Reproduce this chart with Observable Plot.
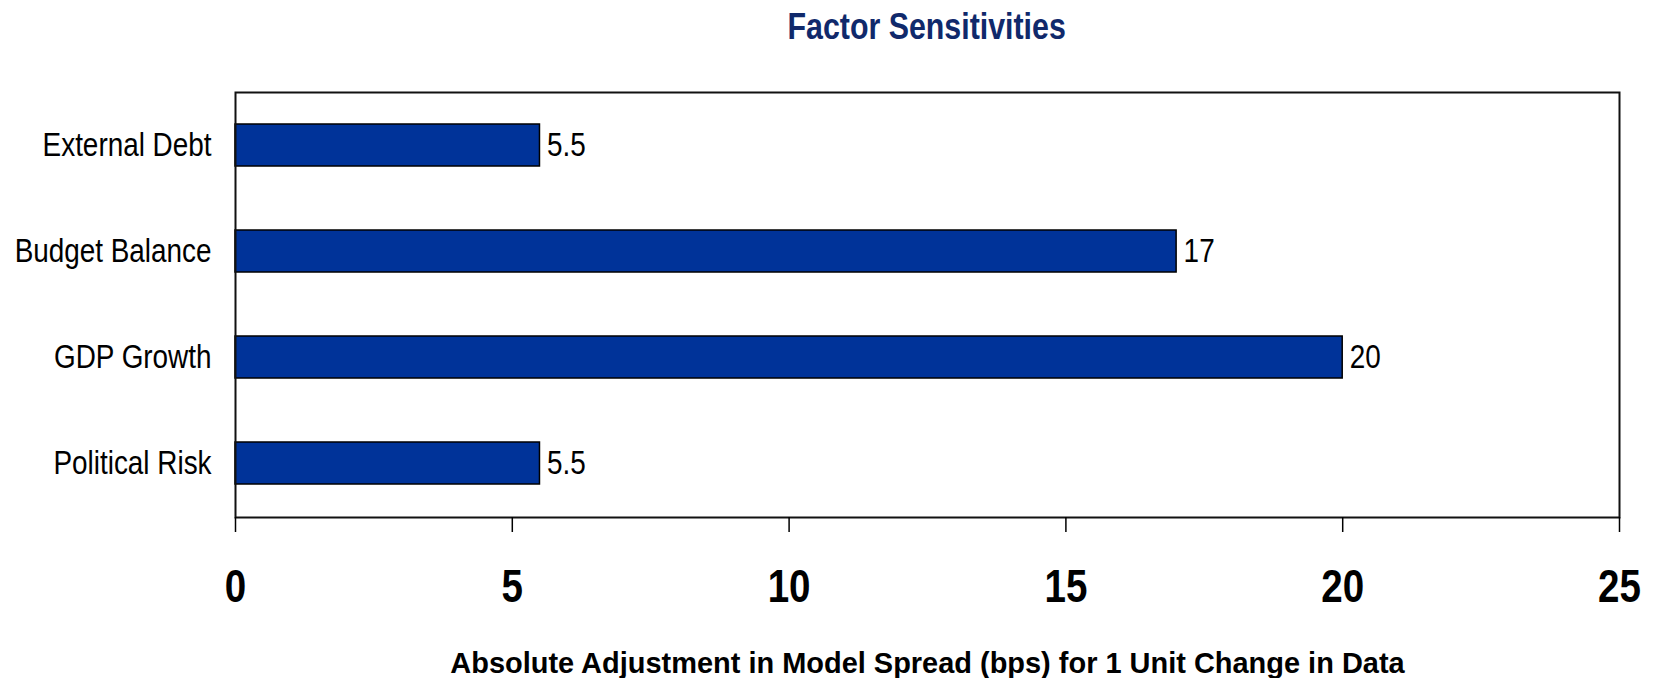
<!DOCTYPE html>
<html>
<head>
<meta charset="utf-8">
<script src="https://cdn.jsdelivr.net/npm/d3@7"></script>
<script src="https://cdn.jsdelivr.net/npm/@observablehq/plot@0.6"></script>
<style>
  html, body { margin: 0; padding: 0; background: #fff; }
  body { width: 1658px; height: 678px; overflow: hidden; font-family: "Liberation Sans", Arial, sans-serif; }
  #title { height: 60px; margin-left: 235px; width: 1384px; text-align: center; font-weight: bold; font-size: 37px; line-height: 54px; color: #10296b; }
  #chart svg { display: block; }
  #caption { margin-left: 235px; width: 1384px; text-align: center; font-weight: bold; font-size: 30px; line-height: 30px; margin-top: 28px; color: #000; }
  .narrow { display: inline-block; transform: scaleX(0.82); transform-origin: center; white-space: nowrap; }
  .cap { display: inline-block; transform: scaleX(0.965); transform-origin: center; white-space: nowrap; }
</style>
</head>
<body>
<div id="title"><span class="narrow">Factor Sensitivities</span></div>
<div id="chart"></div>
<div id="caption"><span class="cap">Absolute Adjustment in Model Spread (bps) for 1 Unit Change in Data</span></div>
<script>
const factors = ["External Debt", "Budget Balance", "GDP Growth", "Political Risk"];
const sensitivities = [5.5, 17, 20, 5.5];
const xTicks = [0, 5, 10, 15, 20, 25];

const data = factors.map((f, i) => ({factor: f, value: sensitivities[i]}));

const chart = Plot.plot({
  width: 1658,
  height: 560,
  marginTop: 32,
  marginBottom: 103,
  marginLeft: 235,
  marginRight: 39,
  style: { fontFamily: '"Liberation Sans", Arial, sans-serif', background: "white", overflow: "visible" },
  x: { domain: [0, 25] },
  y: { domain: factors, paddingInner: 0.6, paddingOuter: 0.3 },
  marks: [
    Plot.barX(data, { x: "value", y: "factor", fill: "#003399", stroke: "#000", strokeWidth: 1.5 }),
    Plot.text(data, { x: "value", y: "factor", text: d => String(d.value), textAnchor: "start", dx: 7, fontSize: 34, fill: "#000" }),
    Plot.frame({ stroke: "#111", strokeWidth: 2 }),
    Plot.axisX({ ticks: xTicks, tickSize: 15, tickPadding: 36, tickFormat: d => String(d), fontSize: 47, fontWeight: "bold", strokeWidth: 1.5, label: null, color: "#000" }),
    Plot.axisY({ tickSize: 0, tickPadding: 24, fontSize: 34, label: null, color: "#000" })
  ]
});
document.getElementById("chart").appendChild(chart);

// emulate a narrow (condensed) typeface by compressing glyphs horizontally
chart.querySelectorAll("text").forEach(t => {
  const len = t.getComputedTextLength();
  if (len > 0) {
    t.setAttribute("textLength", (len * 0.82).toFixed(2));
    t.setAttribute("lengthAdjust", "spacingAndGlyphs");
  }
});
</script>
</body>
</html>
